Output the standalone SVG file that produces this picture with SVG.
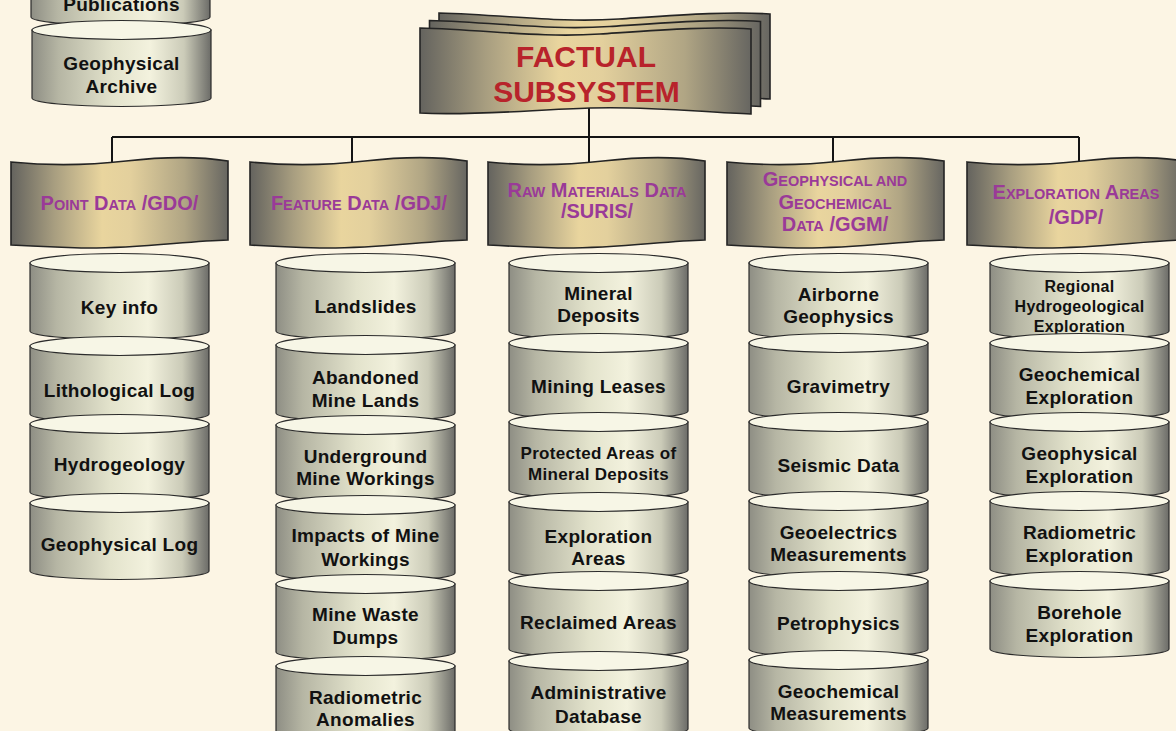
<svg xmlns="http://www.w3.org/2000/svg" xmlns:xlink="http://www.w3.org/1999/xlink" width="1176" height="731" viewBox="0 0 1176 731">
<defs>
<linearGradient id="gBan" x1="0" y1="0" x2="1" y2="0">
<stop offset="0" stop-color="#64635e"/>
<stop offset="0.2" stop-color="#a89e80"/>
<stop offset="0.42" stop-color="#e9d59e"/>
<stop offset="0.55" stop-color="#e3d09d"/>
<stop offset="0.8" stop-color="#b0a584"/>
<stop offset="1" stop-color="#676661"/>
</linearGradient>
<linearGradient id="gCyl" x1="0" y1="0" x2="1" y2="0">
<stop offset="0" stop-color="#8e8e84"/>
<stop offset="0.15" stop-color="#b6b6a4"/>
<stop offset="0.45" stop-color="#e3e3cc"/>
<stop offset="0.66" stop-color="#f3f2de"/>
<stop offset="0.85" stop-color="#cbcbb8"/>
<stop offset="1" stop-color="#6c6c68"/>
</linearGradient>
<path id="banner" d="M0,4 C40,8 80,7 115,3 C150,-1 185,-2 217,3 L217,82 C175,83 125,91 70,90 C40,89 18,88 0,87 Z"/>
<g id="cyl">
<path d="M0,0 L0,68 A89.5,8.5 0 0 0 179,68 L179,0 Z" fill="url(#gCyl)" stroke="#2b2b2b" stroke-width="1.2"/>
<ellipse cx="89.5" cy="0" rx="89.5" ry="9.5" fill="#f7f6e6" stroke="#2b2b2b" stroke-width="1.2"/>
</g>
<style>
.ban{fill:url(#gBan);stroke:#242424;stroke-width:1.6}
.hd{font-family:"Liberation Sans",Arial,sans-serif;font-weight:bold;fill:#9a3a98;text-anchor:middle;font-size:20px}
.sm{font-size:14.5px}
.ct{font-family:"Liberation Sans",Arial,sans-serif;font-weight:bold;fill:#111;text-anchor:middle;font-size:19px;letter-spacing:0.3px}
.ct2{font-size:17px}
.ct3{font-size:16px}
.ttl{font-family:"Liberation Sans",Arial,sans-serif;font-weight:bold;fill:#b8232b;text-anchor:middle;font-size:30px}
.con{stroke:#141414;stroke-width:2;fill:none}
</style>
</defs>
<rect width="1176" height="731" fill="#fcf5e4"/>

<g id="connectors">
<path class="con" d="M112,137 L1079,137 M112,137 L112,166 M352,137 L352,166 M589,108 L589,166 M833,137 L833,166 M1079,137 L1079,166"/>
</g>

<g id="title">
<path class="ban" d="M439,13 C509,15 559,23 619,19 C679,15 729,11 770,14 L770,99 C719,97 669,91 609,93 C549,95 489,101 439,98 Z"/>
<path class="ban" d="M429.5,20.5 C499.5,22.5 549.5,30.5 609.5,26.5 C669.5,22.5 719.5,18.5 760.5,21.5 L760.5,106.5 C709.5,104.5 659.5,98.5 599.5,100.5 C539.5,102.5 479.5,108.5 429.5,105.5 Z"/>
<path class="ban" d="M420,28 C490,30 540,38 600,34 C660,30 710,26 751,29 L751,114 C700,112 650,106 590,108 C530,110 470,116 420,113 Z"/>
<text class="ttl" x="586" y="67">FACTUAL</text>
<text class="ttl" x="586.5" y="102">SUBSYSTEM</text>
</g>

<g id="hdr-gdo">
<use xlink:href="#banner" class="ban" transform="translate(11,158)"/>
<text class="hd" x="119.5" y="210">P<tspan class="sm">OINT</tspan> D<tspan class="sm">ATA</tspan> /GDO/</text>
</g>
<g id="hdr-gdj">
<use xlink:href="#banner" class="ban" transform="translate(250,158)"/>
<text class="hd" x="359" y="210">F<tspan class="sm">EATURE</tspan> D<tspan class="sm">ATA</tspan> /GDJ/</text>
</g>
<g id="hdr-suris">
<use xlink:href="#banner" class="ban" transform="translate(488,158)"/>
<text class="hd" x="597" y="197">R<tspan class="sm">AW</tspan> M<tspan class="sm">ATERIALS</tspan> D<tspan class="sm">ATA</tspan></text>
<text class="hd" x="597" y="218">/SURIS/</text>
</g>
<g id="hdr-ggm">
<use xlink:href="#banner" class="ban" transform="translate(727,158)"/>
<text class="hd" x="835" y="186">G<tspan class="sm">EOPHYSICAL AND</tspan></text>
<text class="hd" x="835" y="209">G<tspan class="sm">EOCHEMICAL</tspan></text>
<text class="hd" x="835" y="231">D<tspan class="sm">ATA</tspan> /GGM/</text>
</g>
<g id="hdr-gdp">
<use xlink:href="#banner" class="ban" transform="translate(967,158)"/>
<text class="hd" x="1076" y="199">E<tspan class="sm">XPLORATION</tspan> A<tspan class="sm">REAS</tspan></text>
<text class="hd" x="1076" y="224">/GDP/</text>
</g>

<!-- top-left -->
<g id="publications" transform="translate(31,-51)">
<use xlink:href="#cyl"/>
<text class="ct" x="90.5" y="62">Publications</text>
</g>
<g id="geophysical-archive" transform="translate(32,30)">
<use xlink:href="#cyl"/>
<text class="ct" x="89.5" y="40">Geophysical</text>
<text class="ct" x="89.5" y="63">Archive</text>
</g>

<!-- column 1 -->
<g id="key-info" transform="translate(30,263)">
<use xlink:href="#cyl"/>
<text class="ct" x="89.5" y="51">Key info</text>
</g>
<g id="lithological-log" transform="translate(30,346)">
<use xlink:href="#cyl"/>
<text class="ct" x="89.5" y="51">Lithological Log</text>
</g>
<g id="hydrogeology" transform="translate(30,424)">
<use xlink:href="#cyl"/>
<text class="ct" x="89.5" y="47">Hydrogeology</text>
</g>
<g id="geophysical-log" transform="translate(30,503)">
<use xlink:href="#cyl"/>
<text class="ct" x="89.5" y="48">Geophysical Log</text>
</g>

<!-- column 2 -->
<g id="landslides" transform="translate(276,263)">
<use xlink:href="#cyl"/>
<text class="ct" x="89.5" y="50">Landslides</text>
</g>
<g id="abandoned-mine-lands" transform="translate(276,345)">
<use xlink:href="#cyl"/>
<text class="ct" x="89.5" y="39">Abandoned</text>
<text class="ct" x="89.5" y="62">Mine Lands</text>
</g>
<g id="underground-mine-workings" transform="translate(276,425)">
<use xlink:href="#cyl"/>
<text class="ct" x="89.5" y="38">Underground</text>
<text class="ct" x="89.5" y="60">Mine Workings</text>
</g>
<g id="impacts-mine-workings" transform="translate(276,505)">
<use xlink:href="#cyl"/>
<text class="ct" x="89.5" y="37">Impacts of Mine</text>
<text class="ct" x="89.5" y="61">Workings</text>
</g>
<g id="mine-waste-dumps" transform="translate(276,584)">
<use xlink:href="#cyl"/>
<text class="ct" x="89.5" y="37">Mine Waste</text>
<text class="ct" x="89.5" y="60">Dumps</text>
</g>
<g id="radiometric-anomalies" transform="translate(276,666)">
<use xlink:href="#cyl"/>
<text class="ct" x="89.5" y="38">Radiometric</text>
<text class="ct" x="89.5" y="60">Anomalies</text>
</g>

<!-- column 3 -->
<g id="mineral-deposits" transform="translate(509,263)">
<use xlink:href="#cyl"/>
<text class="ct" x="89.5" y="37">Mineral</text>
<text class="ct" x="89.5" y="59">Deposits</text>
</g>
<g id="mining-leases" transform="translate(509,343)">
<use xlink:href="#cyl"/>
<text class="ct" x="89.5" y="50">Mining Leases</text>
</g>
<g id="protected-areas" transform="translate(509,422)">
<use xlink:href="#cyl"/>
<text class="ct ct2" x="89.5" y="37">Protected Areas of</text>
<text class="ct ct2" x="89.5" y="58">Mineral Deposits</text>
</g>
<g id="exploration-areas" transform="translate(509,502)">
<use xlink:href="#cyl"/>
<text class="ct" x="89.5" y="41">Exploration</text>
<text class="ct" x="89.5" y="63">Areas</text>
</g>
<g id="reclaimed-areas" transform="translate(509,581)">
<use xlink:href="#cyl"/>
<text class="ct" x="89.5" y="48">Reclaimed Areas</text>
</g>
<g id="administrative-database" transform="translate(509,661)">
<use xlink:href="#cyl"/>
<text class="ct" x="89.5" y="38">Administrative</text>
<text class="ct" x="89.5" y="62">Database</text>
</g>

<!-- column 4 -->
<g id="airborne-geophysics" transform="translate(749,263)">
<use xlink:href="#cyl"/>
<text class="ct" x="89.5" y="38">Airborne</text>
<text class="ct" x="89.5" y="60">Geophysics</text>
</g>
<g id="gravimetry" transform="translate(749,343)">
<use xlink:href="#cyl"/>
<text class="ct" x="89.5" y="50">Gravimetry</text>
</g>
<g id="seismic-data" transform="translate(749,422)">
<use xlink:href="#cyl"/>
<text class="ct" x="89.5" y="50">Seismic Data</text>
</g>
<g id="geoelectrics" transform="translate(749,501)">
<use xlink:href="#cyl"/>
<text class="ct" x="89.5" y="38">Geoelectrics</text>
<text class="ct" x="89.5" y="60">Measurements</text>
</g>
<g id="petrophysics" transform="translate(749,581)">
<use xlink:href="#cyl"/>
<text class="ct" x="89.5" y="49">Petrophysics</text>
</g>
<g id="geochemical-measurements" transform="translate(749,660)">
<use xlink:href="#cyl"/>
<text class="ct" x="89.5" y="38">Geochemical</text>
<text class="ct" x="89.5" y="60">Measurements</text>
</g>

<!-- column 5 -->
<g id="regional-hydro" transform="translate(990,263)">
<use xlink:href="#cyl"/>
<text class="ct ct3" x="89.5" y="29">Regional</text>
<text class="ct ct3" x="89.5" y="49">Hydrogeological</text>
<text class="ct ct3" x="89.5" y="69">Exploration</text>
</g>
<g id="geochemical-exploration" transform="translate(990,343)">
<use xlink:href="#cyl"/>
<text class="ct" x="89.5" y="38">Geochemical</text>
<text class="ct" x="89.5" y="61">Exploration</text>
</g>
<g id="geophysical-exploration" transform="translate(990,422)">
<use xlink:href="#cyl"/>
<text class="ct" x="89.5" y="38">Geophysical</text>
<text class="ct" x="89.5" y="61">Exploration</text>
</g>
<g id="radiometric-exploration" transform="translate(990,501)">
<use xlink:href="#cyl"/>
<text class="ct" x="89.5" y="38">Radiometric</text>
<text class="ct" x="89.5" y="61">Exploration</text>
</g>
<g id="borehole-exploration" transform="translate(990,581)">
<use xlink:href="#cyl"/>
<text class="ct" x="89.5" y="38">Borehole</text>
<text class="ct" x="89.5" y="61">Exploration</text>
</g>
</svg>
